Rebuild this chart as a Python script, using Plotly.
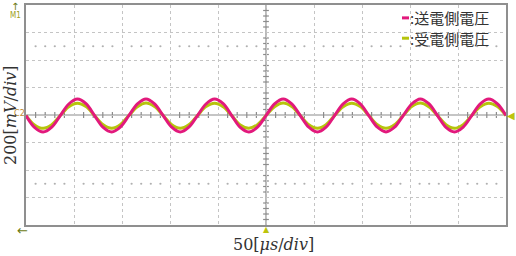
import plotly.graph_objects as go

# ---- data (read from the oscilloscope capture) ----
time_us = [0.0, 8.9, 17.9, 26.8, 35.7, 44.6, 53.6, 62.5, 71.4, 80.4, 89.3, 98.2, 107.1, 116.1,
           125.0, 133.9, 142.9, 151.8, 160.7, 169.6, 178.6, 187.5, 196.4, 205.4, 214.3, 223.2,
           232.1, 241.1, 250.0, 258.9, 267.9, 276.8, 285.7, 294.6, 303.6, 312.5, 321.4, 330.4,
           339.3, 348.2, 357.1, 366.1, 375.0, 383.9, 392.9, 401.8, 410.7, 419.6, 428.6, 437.5,
           446.4, 455.4, 464.3, 473.2, 482.1, 491.1, 500.0]
send_mV = [-4, -90, -124, -89, -4, 80, 116, 82, -4, -90, -123, -88, -5, 81, 117, 81, -4,
           -89, -124, -89, -4, 80, 116, 82, -4, -90, -123, -88, -4, 81, 117, 81, -4, -89,
           -124, -89, -4, 81, 116, 81, -5, -89, -123, -89, -4, 80, 117, 82, -4, -90, -123,
           -88, -4, 81, 116, 81, -4]
recv_mV = [-4, -72, -97, -71, -4, 60, 86, 61, -4, -71, -96, -71, -4, 60, 87, 61, -4,
           -71, -97, -71, -4, 61, 86, 60, -4, -72, -96, -70, -4, 60, 87, 61, -4, -71,
           -97, -71, -4, 60, 86, 61, -4, -71, -96, -71, -4, 61, 87, 60, -4, -71, -97,
           -70, -4, 60, 86, 61, -4]
series_names = ["送電側電圧", "受電側電圧"]
x_label = "50[<i>μs</i>/<i>div</i>]"
y_label = "200[<i>mV</i>/<i>div</i>]"

PINK = "#e2197c"
YEL = "#b6c40c"

X0, X1 = 0, 500
Y0, Y1 = -800, 800
DX, DY = 50, 200

fig = go.Figure()
fig.add_trace(go.Scatter(x=time_us, y=recv_mV, name=series_names[1], mode="lines",
                         line=dict(color=YEL, width=3, shape="spline"), showlegend=False))
fig.add_trace(go.Scatter(x=time_us, y=send_mV, name=series_names[0], mode="lines",
                         line=dict(color=PINK, width=3, shape="spline"), showlegend=False))

shapes = []
# center cross lines
shapes.append(dict(type="line", x0=X0, x1=X1, y0=0, y1=0, line=dict(color="#8c8c8c", width=1.2), layer="below"))
shapes.append(dict(type="line", x0=(X0+X1)/2, x1=(X0+X1)/2, y0=Y0, y1=Y1, line=dict(color="#8c8c8c", width=1.2), layer="below"))
# minor ticks on the center lines
sub = DX / 5
k = 1
while X0 + k * sub < X1:
    xv = X0 + k * sub
    if k % 5:
        shapes.append(dict(type="line", x0=xv, x1=xv, y0=-22, y1=22, line=dict(color="#8c8c8c", width=1.2), layer="below"))
    k += 1
suby = DY / 5
k = 1
while Y0 + k * suby < Y1:
    yv = Y0 + k * suby
    if k % 5:
        shapes.append(dict(type="line", x0=247, x1=253, y0=yv, y1=yv, line=dict(color="#8c8c8c", width=1.2), layer="below"))
    k += 1
fig.update_layout(shapes=shapes)

# dotted marker rows at +/-2.5 div
dot_x = [X0 + k * sub for k in range(1, 50) if k % 5]
for yv in (2.5 * DY, -2.5 * DY):
    fig.add_trace(go.Scatter(x=dot_x, y=[yv] * len(dot_x), mode="markers",
                             marker=dict(size=2.2, color="#b0b0b0"), showlegend=False, hoverinfo="skip"))

W, H = 516, 256
L, R, T, B = 26, 10, 3, 31
pw, ph = W - L - R, H - T - B


def px(x):
    return (x - L) / pw


def py(y):
    return (H - B - y) / ph


def note(x, y, text, size, color, family, xa="center", **kw):
    return dict(x=px(x), y=py(y), xref="paper", yref="paper", xanchor=xa, yanchor="middle",
                text=text, showarrow=False, font=dict(size=size, color=color, family=family), **kw)


ann = []
# legend
for i, (nm, col) in enumerate(zip(series_names, [PINK, YEL])):
    yy = 16 + 20.5 * i
    fig.add_shape(type="line", xref="paper", yref="paper", x0=px(402), x1=px(409), y0=py(yy), y1=py(yy),
                  line=dict(color=col, width=3))
    ann.append(note(408, yy, ":" + nm, 15, "#333333", "Noto Sans CJK JP", xa="left"))
# scope markers
ann.append(note(15, 5, "↑", 10, "#6d7a12", "DejaVu Sans"))
ann.append(note(15, 14, "M1", 8, "#9ca020", "DejaVu Sans Condensed"))
ann.append(note(19, 112, "C2", 9, "#c08a30", "DejaVu Sans Condensed"))
ann.append(note(511, 114, "◀", 10, "#bcc40c", "DejaVu Sans"))
ann.append(note(266, 229.5, "▲", 8, "#bcc40c", "DejaVu Sans"))
ann.append(note(22, 231, "←", 13, "#6d7a12", "DejaVu Sans"))
# axis titles
ann.append(note(273, 245, x_label, 16, "#333333", "DejaVu Serif"))
ann.append(note(10, 114, y_label, 16, "#333333", "DejaVu Serif", textangle=-90))

fig.update_layout(
    width=W, height=H, margin=dict(l=L, r=R, t=T, b=B),
    paper_bgcolor="white", plot_bgcolor="white",
    annotations=ann,
    xaxis=dict(range=[X0, X1], dtick=DX, tick0=X0, showticklabels=False, ticks="",
               showgrid=True, gridcolor="#c4c4c4", griddash="dot", gridwidth=1,
               zeroline=False, showline=True, mirror=True, linecolor="#8f8f8f", linewidth=2),
    yaxis=dict(range=[Y0, Y1], dtick=DY, tick0=Y0, showticklabels=False, ticks="",
               showgrid=True, gridcolor="#c4c4c4", griddash="dot", gridwidth=1,
               zeroline=False, showline=True, mirror=True, linecolor="#8f8f8f", linewidth=2),
)

fig.write_html("out.html")
